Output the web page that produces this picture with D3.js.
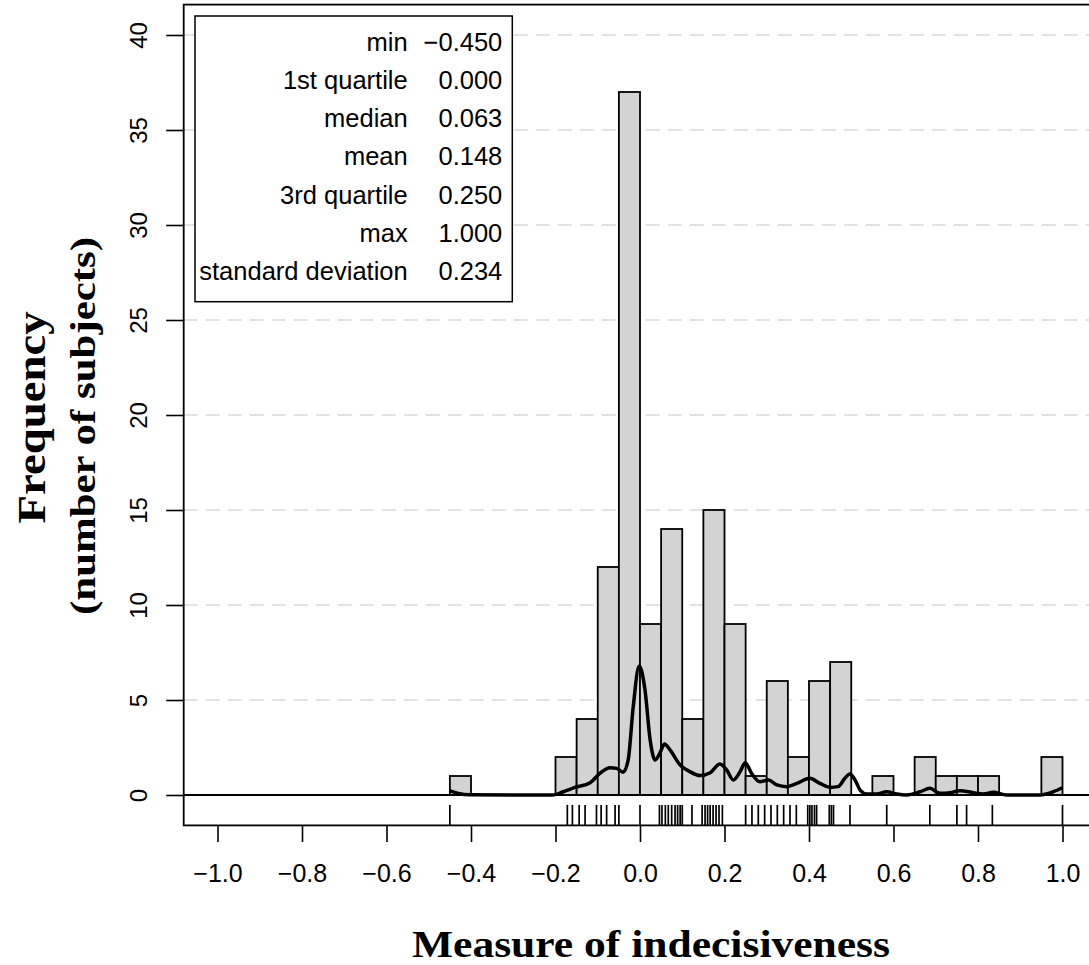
<!DOCTYPE html>
<html>
<head>
<meta charset="utf-8">
<script src="https://cdn.jsdelivr.net/npm/d3@7"></script>
<style>
  body { margin: 0; background: #fff; }
  svg { display: block; }
</style>
</head>
<body>
<div id="chart"></div>
<script>
// histogram bins (lower edge, width 0.05) and counts
var binLo = [-0.45, -0.20, -0.15, -0.10, -0.05, 0.00, 0.05, 0.10, 0.15, 0.20, 0.25,
             0.30, 0.35, 0.40, 0.45, 0.55, 0.65, 0.70, 0.75, 0.80, 0.95];
var counts = [1, 2, 4, 12, 37, 9, 14, 4, 15, 9, 1,
              6, 2, 6, 7, 1, 2, 1, 1, 1, 2];
var binWidth = 0.05;

// density curve, scaled to frequency units
var densX = [-0.451, -0.43, -0.402, -0.30, -0.206, -0.182, -0.154, -0.118, -0.095, -0.071, -0.055,
             -0.040, -0.028, -0.016, -0.002, 0.012, 0.024, 0.036, 0.047, 0.058, 0.071, 0.095,
             0.118, 0.142, 0.166, 0.189, 0.205, 0.221, 0.237, 0.249, 0.264, 0.284, 0.304,
             0.324, 0.347, 0.371, 0.402, 0.426, 0.450, 0.469, 0.485, 0.497, 0.509, 0.521,
             0.537, 0.560, 0.584, 0.608, 0.631, 0.663, 0.686, 0.710, 0.734, 0.757, 0.789,
             0.813, 0.836, 0.868, 0.915, 0.947, 0.978, 1.0];
var densY = [0.23, 0.08, 0.01, 0.0, 0.0, 0.17, 0.40, 0.65, 1.14, 1.44, 1.40,
             1.20, 1.84, 4.65, 6.79, 5.50, 2.90, 1.84, 2.20, 2.68, 2.37, 1.58,
             1.23, 1.02, 1.17, 1.63, 1.32, 0.79, 1.23, 1.70, 1.14, 0.70, 0.79,
             0.53, 0.44, 0.61, 0.88, 0.61, 0.40, 0.44, 0.88, 1.10, 0.79, 0.26,
             0.05, 0.05, 0.17, 0.05, 0.0, 0.17, 0.35, 0.09, 0.12, 0.23, 0.12,
             0.05, 0.14, 0.0, 0.0, 0.0, 0.17, 0.38];

// distinct observed values (rug)
var rugVals = [-0.450, -0.172, -0.160, -0.144, -0.130, -0.103, -0.092, -0.079, -0.059, -0.050,
               0.000, 0.046, 0.052, 0.060, 0.067, 0.075, 0.083, 0.089, 0.095, 0.100, 0.123,
               0.147, 0.154, 0.160, 0.166, 0.173, 0.180, 0.187, 0.195,
               0.250, 0.265, 0.280, 0.295, 0.310, 0.325, 0.340, 0.355, 0.370,
               0.397, 0.402, 0.407, 0.413, 0.418, 0.448, 0.453, 0.458, 0.497,
               0.584, 0.686, 0.750, 0.773, 0.834, 1.000];

var xTicks = [-1.0, -0.8, -0.6, -0.4, -0.2, 0.0, 0.2, 0.4, 0.6, 0.8, 1.0];
var yTicks = [0, 5, 10, 15, 20, 25, 30, 35, 40];
var gridVals = [5, 10, 15, 20, 25, 30, 35, 40];

var statLabels = ["min", "1st quartile", "median", "mean", "3rd quartile", "max", "standard deviation"];
var statValues = ["\u22120.450", "0.000", "0.063", "0.148", "0.250", "1.000", "0.234"];

var W = 1089, H = 965;
var plotL = 183.7, plotR = 1096.3, plotT = 4.6, plotB = 825.4;
var sans = "'Liberation Sans', Arial, sans-serif";
var serif = "'Liberation Serif', 'Times New Roman', serif";

var x = d3.scaleLinear().domain([-1.08, 1.08]).range([plotL, plotR]);
var y = d3.scaleLinear().domain([-1.6, 41.6]).range([plotB, plotT]);

var svg = d3.select("#chart").append("svg")
    .attr("width", W)
    .attr("height", H);

svg.append("rect").attr("width", W).attr("height", H).attr("fill", "#fff");

// dashed grid
svg.append("g").selectAll("line")
    .data(gridVals)
  .enter().append("line")
    .attr("x1", plotL).attr("x2", plotR)
    .attr("y1", function(d) { return y(d); })
    .attr("y2", function(d) { return y(d); })
    .attr("stroke", "#d9d9d9")
    .attr("stroke-width", 1.5)
    .attr("stroke-dasharray", "14,8");

// bars
svg.append("g").selectAll("rect")
    .data(binLo)
  .enter().append("rect")
    .attr("x", function(d) { return x(d); })
    .attr("width", function(d) { return x(d + binWidth) - x(d); })
    .attr("y", function(d, i) { return y(counts[i]); })
    .attr("height", function(d, i) { return y(0) - y(counts[i]); })
    .attr("fill", "#d3d3d3")
    .attr("stroke", "#000")
    .attr("stroke-width", 1.8);

// zero line
svg.append("line")
    .attr("x1", plotL).attr("x2", plotR)
    .attr("y1", y(0)).attr("y2", y(0))
    .attr("stroke", "#000").attr("stroke-width", 1.8);

// density line
var dens = densX.map(function(d, i) { return [d, densY[i]]; });
var line = d3.line()
    .x(function(d) { return x(d[0]); })
    .y(function(d) { return y(d[1]); })
    .curve(d3.curveMonotoneX);
svg.append("path")
    .datum(dens)
    .attr("d", line)
    .attr("fill", "none")
    .attr("stroke", "#000")
    .attr("stroke-width", 3.5)
    .attr("stroke-linejoin", "round");

// rug
svg.append("g").selectAll("line")
    .data(rugVals)
  .enter().append("line")
    .attr("x1", function(d) { return x(d); })
    .attr("x2", function(d) { return x(d); })
    .attr("y1", plotB)
    .attr("y2", plotB - 20.5)
    .attr("stroke", "#000")
    .attr("stroke-width", 1.7);

// box
svg.append("rect")
    .attr("x", plotL).attr("y", plotT)
    .attr("width", plotR - plotL).attr("height", plotB - plotT)
    .attr("fill", "none").attr("stroke", "#000").attr("stroke-width", 1.8);

// x axis
var xAxis = svg.append("g")
    .attr("transform", "translate(0," + plotB + ")")
    .call(d3.axisBottom(x).tickValues(xTicks).tickSize(16.6).tickSizeOuter(0)
      .tickFormat(function(d) { return d.toFixed(1).replace("-", "\u2212"); }));
xAxis.select(".domain").remove();
xAxis.selectAll(".tick line").attr("stroke", "#000").attr("stroke-width", 1.6);
xAxis.selectAll(".tick text")
    .attr("y", 56.6).attr("dy", 0)
    .attr("fill", "#000")
    .style("font-family", sans)
    .style("font-size", "25px");

// y axis
var yAxis = svg.append("g")
    .attr("transform", "translate(" + plotL + ",0)")
    .call(d3.axisLeft(y).tickValues(yTicks).tickSize(17.5).tickSizeOuter(0));
yAxis.select(".domain").remove();
yAxis.selectAll(".tick line").attr("stroke", "#000").attr("stroke-width", 1.6);
yAxis.selectAll(".tick text")
    .attr("x", 0).attr("y", -36.7).attr("dy", 0)
    .attr("transform", "rotate(-90)")
    .attr("text-anchor", "middle")
    .attr("fill", "#000")
    .style("font-family", sans)
    .style("font-size", "24px");

// axis titles
svg.append("text")
    .attr("x", 651).attr("y", 957)
    .attr("text-anchor", "middle")
    .attr("textLength", 478).attr("lengthAdjust", "spacingAndGlyphs")
    .style("font-family", serif).style("font-weight", "bold").style("font-size", "37px")
    .text("Measure of indecisiveness");

svg.append("text")
    .attr("transform", "translate(45,417.5) rotate(-90)")
    .attr("text-anchor", "middle")
    .attr("textLength", 212).attr("lengthAdjust", "spacingAndGlyphs")
    .style("font-family", serif).style("font-weight", "bold").style("font-size", "40px")
    .text("Frequency");

svg.append("text")
    .attr("transform", "translate(95,426) rotate(-90)")
    .attr("text-anchor", "middle")
    .attr("textLength", 378).attr("lengthAdjust", "spacingAndGlyphs")
    .style("font-family", serif).style("font-weight", "bold").style("font-size", "36px")
    .text("(number of subjects)");

// summary legend
var leg = svg.append("g");
leg.append("rect")
    .attr("x", 195).attr("y", 16)
    .attr("width", 317.3).attr("height", 285.7)
    .attr("fill", "#fff").attr("stroke", "#000").attr("stroke-width", 1.5);
leg.selectAll("text.lab")
    .data(statLabels)
  .enter().append("text")
    .attr("class", "lab")
    .attr("x", 407.7)
    .attr("y", function(d, i) { return 50.5 + 38.3 * i; })
    .attr("text-anchor", "end")
    .style("font-family", sans)
    .style("font-size", "25.5px")
    .text(function(d) { return d; });
leg.selectAll("text.val")
    .data(statValues)
  .enter().append("text")
    .attr("class", "val")
    .attr("x", 502.3)
    .attr("y", function(d, i) { return 50.5 + 38.3 * i; })
    .attr("text-anchor", "end")
    .style("font-family", sans)
    .style("font-size", "25.5px")
    .text(function(d) { return d; });
</script>
</body>
</html>
